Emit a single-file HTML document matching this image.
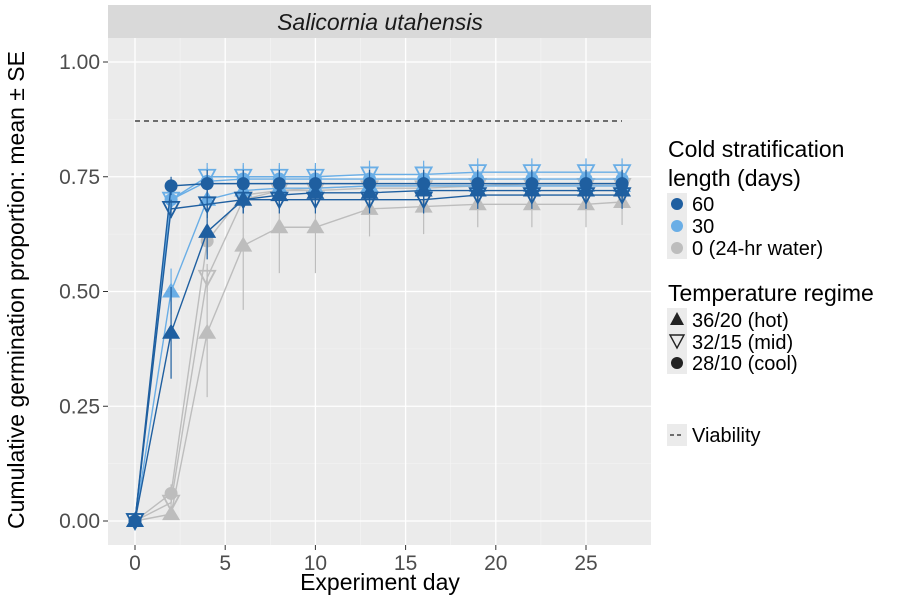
<!DOCTYPE html>
<html><head><meta charset="utf-8"><style>
body{margin:0;background:#fff;}
svg text{font-family:"Liberation Sans",Arial,sans-serif;}
</style></head><body>
<svg id="chart" width="904" height="603" viewBox="0 0 904 603" xmlns="http://www.w3.org/2000/svg">
<rect x="108" y="5" width="543" height="33" fill="#d9d9d9"/>
<text x="380" y="30" font-size="23" font-style="italic" text-anchor="middle" fill="#1a1a1a">Salicornia utahensis</text>
<rect x="108" y="38" width="543" height="507" fill="#ebebeb"/>
<g id="grid"></g>
<line x1="135" y1="121" x2="622" y2="121" stroke="#222" stroke-dasharray="5,4" stroke-width="1.2"/>
<g id="series"></g>
<g id="axes"></g>
<text x="380" y="590" font-size="23" text-anchor="middle" fill="#000">Experiment day</text>
<text transform="translate(24,290) rotate(-90)" font-size="23" text-anchor="middle" fill="#000">Cumulative germination proportion: mean ± SE</text>
<g>
<text x="668" y="157" font-size="23" fill="#000">Cold stratification</text>
<text x="668" y="186" font-size="23" fill="#000">length (days)</text>
<rect x="667" y="193" width="20" height="66" fill="#ebebeb"/>
<circle cx="677" cy="204" r="6" fill="#1f5fa0"/>
<text x="692" y="211" font-size="20">60</text>
<circle cx="677" cy="226" r="6" fill="#6aaee6"/>
<text x="692" y="233" font-size="20">30</text>
<circle cx="677" cy="248" r="6" fill="#bdbdbd"/>
<text x="692" y="255" font-size="20">0 (24-hr water)</text>
<text x="668" y="301" font-size="23" fill="#000">Temperature regime</text>
<rect x="667" y="308" width="20" height="66" fill="#ebebeb"/>
<polygon points="677,312 684,325 670,325" fill="#222"/>
<text x="692" y="327" font-size="20">36/20 (hot)</text>
<polygon points="670,335 684,335 677,348" fill="none" stroke="#222" stroke-width="1.4"/>
<text x="692" y="349" font-size="20">32/15 (mid)</text>
<circle cx="677" cy="363" r="6" fill="#222"/>
<text x="692" y="370" font-size="20">28/10 (cool)</text>
<rect x="667" y="424" width="20" height="22" fill="#ebebeb"/>
<line x1="670" y1="435" x2="684" y2="435" stroke="#222" stroke-dasharray="4,3" stroke-width="1.2"/>
<text x="692" y="442" font-size="20">Viability</text>
</g>
</svg>
<script>
const days=[0,2,4,6,8,10,13,16,19,22,25,27];
const xTicks=[0,5,10,15,20,25];
const yTicks=[0,0.25,0.5,0.75,1.0];
const yTickLabels=["0.00","0.25","0.50","0.75","1.00"];
const s60hot=[0,0.41,0.63,0.70,0.71,0.715,0.715,0.72,0.72,0.72,0.72,0.72];
const s60mid=[0,0.68,0.69,0.70,0.70,0.70,0.70,0.70,0.71,0.71,0.71,0.71];
const s60cool=[0,0.73,0.735,0.735,0.735,0.735,0.735,0.735,0.735,0.735,0.735,0.735];
const s30hot=[0,0.50,0.70,0.72,0.725,0.725,0.73,0.73,0.73,0.73,0.73,0.73];
const s30mid=[0,0.70,0.75,0.75,0.75,0.75,0.755,0.755,0.76,0.76,0.76,0.76];
const s30cool=[0,0.70,0.74,0.745,0.745,0.745,0.745,0.745,0.745,0.745,0.745,0.745];
const s0hot=[0,0.015,0.41,0.60,0.64,0.64,0.68,0.685,0.69,0.69,0.69,0.695];
const s0mid=[0,0.04,0.53,0.70,0.72,0.72,0.725,0.725,0.73,0.73,0.73,0.73];
const s0cool=[0,0.06,0.61,0.71,0.72,0.725,0.73,0.73,0.73,0.735,0.735,0.735];
const seHot60=[0,0.10,0.06,0.03,0.03,0.03,0.03,0.03,0.03,0.03,0.03,0.03];
const seHot30=[0,0.05,0.04,0.03,0.03,0.03,0.03,0.03,0.03,0.03,0.03,0.03];
const seHot0=[0,0.01,0.14,0.14,0.10,0.10,0.06,0.06,0.05,0.05,0.05,0.05];
const seMid=[0,0.02,0.03,0.03,0.03,0.03,0.03,0.03,0.03,0.03,0.03,0.03];
const X=d=>135+d*18.04, Y=v=>521-v*459;
const NS="http://www.w3.org/2000/svg";
function mk(t,a,p){const e=document.createElementNS(NS,t);for(const k in a)e.setAttribute(k,a[k]);p.appendChild(e);return e;}
const grid=document.getElementById('grid');
[2.5,7.5,12.5,17.5,22.5].forEach(d=>mk('line',{x1:X(d),x2:X(d),y1:38,y2:545,stroke:'#f5f5f5','stroke-width':0.6},grid));
[0.125,0.375,0.625,0.875].forEach(v=>mk('line',{x1:108,x2:651,y1:Y(v),y2:Y(v),stroke:'#f5f5f5','stroke-width':0.6},grid));
xTicks.forEach(d=>{const l=mk('line',{x1:X(d),x2:X(d),y1:38,y2:545,stroke:'#fff','stroke-width':1.3},grid);

});
yTicks.forEach(v=>{const l=mk('line',{x1:108,x2:651,y1:Y(v),y2:Y(v),stroke:'#fff','stroke-width':1.3},grid);

});
const ax=document.getElementById('axes');
xTicks.forEach(d=>{mk('line',{x1:X(d),x2:X(d),y1:545,y2:550,stroke:'#333'},ax);
const t=mk('text',{x:X(d),y:570,'font-size':21,'text-anchor':'middle',fill:'#4d4d4d'},ax);t.textContent=d;

});
yTicks.forEach((v,i)=>{mk('line',{x1:103,x2:108,y1:Y(v),y2:Y(v),stroke:'#333'},ax);
const t=mk('text',{x:100,y:Y(v)+7,'font-size':21,'text-anchor':'end',fill:'#4d4d4d'},ax);t.textContent=yTickLabels[i];

});
const sg=document.getElementById('series');
const series=[
 {v:s0hot,se:seHot0,c:'#bdbdbd',s:'hot',n:'series-0-hot'},
 {v:s0mid,se:seMid,c:'#bdbdbd',s:'mid',n:'series-0-mid'},
 {v:s0cool,se:seMid,c:'#bdbdbd',s:'cool',n:'series-0-cool'},
 {v:s30hot,se:seHot30,c:'#6aaee6',s:'hot',n:'series-30-hot'},
 {v:s30mid,se:seMid,c:'#6aaee6',s:'mid',n:'series-30-mid'},
 {v:s30cool,se:seMid,c:'#6aaee6',s:'cool',n:'series-30-cool'},
 {v:s60hot,se:seHot60,c:'#1f5fa0',s:'hot',n:'series-60-hot'},
 {v:s60mid,se:seMid,c:'#1f5fa0',s:'mid',n:'series-60-mid'},
 {v:s60cool,se:seMid,c:'#1f5fa0',s:'cool',n:'series-60-cool'}];
series.forEach(S=>{
 const g=mk('g',{},sg);
 
 
 days.forEach((d,i)=>{if(S.se[i]>0)mk('line',{x1:X(d),x2:X(d),y1:Y(S.v[i]-S.se[i]),y2:Y(S.v[i]+S.se[i]),stroke:S.c,'stroke-width':1.2},g);});
 mk('polyline',{points:days.map((d,i)=>X(d)+','+Y(S.v[i])).join(' '),fill:'none',stroke:S.c,'stroke-width':1.4},g);
 days.forEach((d,i)=>{const x=X(d),y=Y(S.v[i]);let m;
  if(S.s==='cool')m=mk('circle',{cx:x,cy:y,r:6.5,fill:S.c},g);
  else if(S.s==='hot')m=mk('polygon',{points:`${x},${y-9} ${x+9},${y+6} ${x-9},${y+6}`,fill:S.c},g);
  else m=mk('polygon',{points:`${x-8},${y-7} ${x+8},${y-7} ${x},${y+8}`,fill:'none',stroke:S.c,'stroke-width':1.8},g);
  
  });
});
</script>
</body></html>
